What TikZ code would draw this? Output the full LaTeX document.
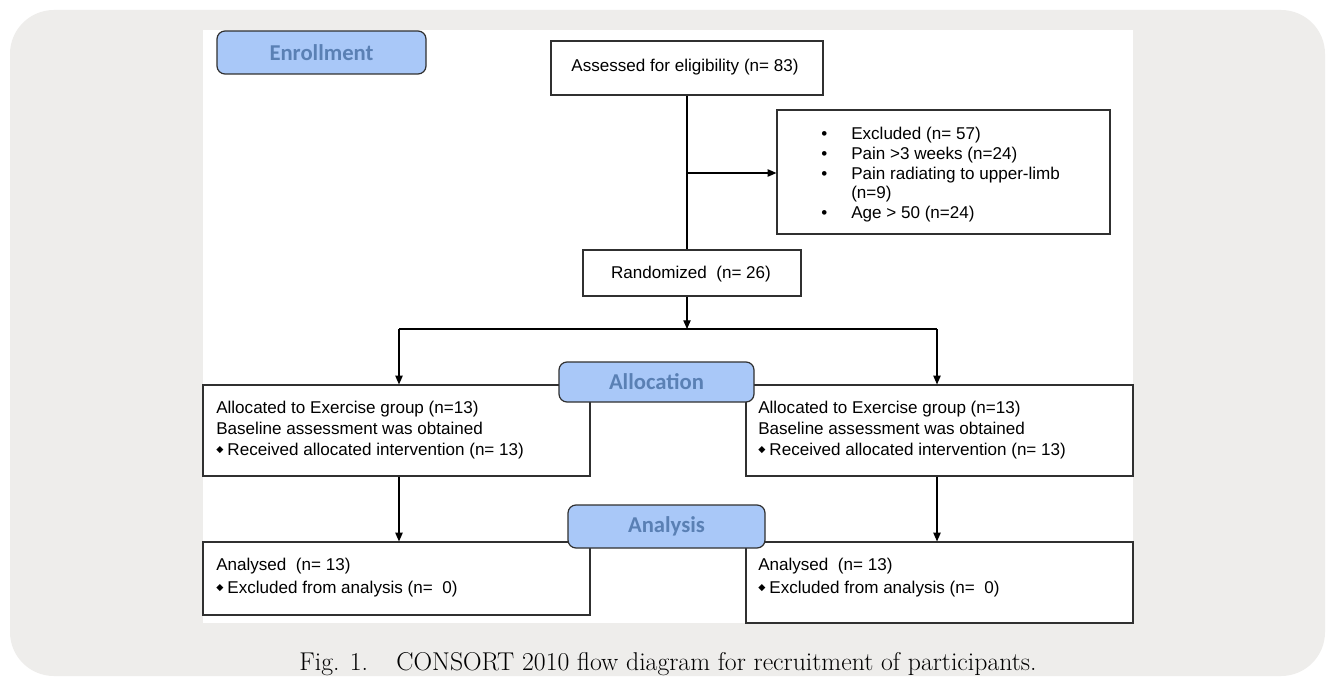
\documentclass[tikz,border=0pt]{standalone}
\usepackage{fontspec}
\usetikzlibrary{arrows.meta}
\newfontfamily\arialf{Liberation Sans}
\newfontfamily\calibf{Carlito}
\newfontfamily\dvf{DejaVu Sans}
\definecolor{cardgray}{HTML}{EEEDEB}
\definecolor{phasefill}{HTML}{A9C8F8}
\definecolor{phasetext}{HTML}{5A80B4}
\definecolor{boxline}{HTML}{303030}
\newcommand{\dmd}{\raisebox{2pt}{\dvf\fontsize{7}{7}\selectfont ◆}}
\newcommand{\bul}{\llap{\makebox[22.5pt][l]{•}}}
\begin{document}
\begin{tikzpicture}[x=0.75pt,y=-0.75pt,
  wh/.style 2 args={minimum width=#1*0.75pt, minimum height=#2*0.75pt},
  box/.style={draw=boxline, line width=0.9pt, fill=white, inner sep=0pt},
  phase/.style={draw=boxline, line width=0.9pt, fill=phasefill, rounded corners=6pt, inner sep=0pt,
    font=\calibf\bfseries\fontsize{17}{19}\selectfont, text=phasetext},
  txt/.style={font=\arialf\fontsize{12.8}{15.75}\selectfont, inner sep=0pt, align=left},
  arr/.style={-{Triangle[length=6.5pt,width=5.5pt]}, line width=0.8pt},
  ln/.style={line width=0.8pt}]
\useasboundingbox (0,0) rectangle (1327,677);
\fill[white] (0,0) rectangle (1327,677);
\fill[cardgray, rounded corners=33pt] (10,10) rectangle (1325,676);
\fill[white] (203,30) rectangle (1133,623);

% boxes
\node[box, wh={272}{54}] (ass) at (687,68) {};
\node[box, wh={333}{124}] (exc) at (943.5,172) {};
\node[box, wh={218}{46}] (rand) at (692,273) {};
\node[box, wh={387}{91}] (allocL) at (396.5,430.5) {};
\node[box, wh={387}{91}] (allocR) at (939.5,430.5) {};
\node[box, wh={387}{73}] (anaL) at (396.5,578.5) {};
\node[box, wh={387}{81}] (anaR) at (939.5,582.5) {};

% texts
\node[txt] (tass) at (685,67) {Assessed for eligibility (n= 83)};
\node[txt, anchor=north west, font=\arialf\fontsize{12.8}{14.8}\selectfont] (texc) at (851,127)
  {\bul Excluded (n= 57)\\ \bul Pain >3 weeks (n=24)\\ \bul Pain radiating to upper-limb\\ (n=9)\\ \bul Age > 50 (n=24)};
\node[txt] (trand) at (691,274) {Randomized \ (n= 26)};
\node[txt, anchor=north west] (tallocL) at (216,401)
  {Allocated to Exercise group (n=13)\\ Baseline assessment was obtained\\ \dmd\hspace{3pt}Received allocated intervention (n= 13)};
\node[txt, anchor=north west] (tallocR) at (758,401)
  {Allocated to Exercise group (n=13)\\ Baseline assessment was obtained\\ \dmd\hspace{3pt}Received allocated intervention (n= 13)};
\node[txt, anchor=north west, font=\arialf\fontsize{12.8}{17.25}\selectfont] (tanaL) at (216,558)
  {Analysed \ (n= 13)\\ \dmd\hspace{3pt}Excluded from analysis (n= \ 0)};
\node[txt, anchor=north west, font=\arialf\fontsize{12.8}{17.25}\selectfont] (tanaR) at (758,558)
  {Analysed \ (n= 13)\\ \dmd\hspace{3pt}Excluded from analysis (n= \ 0)};

% connectors
\coordinate (j1) at (687,173);
\coordinate (split) at (687,329);
\coordinate (sl) at (399,329);
\coordinate (sr) at (937,329);
\draw[ln] (ass.south) -- (ass.south |- rand.north);
\draw[arr] (j1) -- (exc.west |- j1);
\draw[arr] (ass.south |- rand.south) -- (split);
\draw[ln] (sl) -- (sr);
\draw[arr] (sl) -- (sl |- allocL.north);
\draw[arr] (sr) -- (sr |- allocR.north);
\draw[arr] (sl |- allocL.south) -- (sl |- anaL.north);
\draw[arr] (sr |- allocR.south) -- (sr |- anaR.north);

% phase labels
\node[phase, wh={209}{43}] (enr) at (321.5,52.5) {Enrollment};
\node[phase, wh={195}{40}] (allo) at (656.5,382) {Allocation};
\node[phase, wh={197}{43}] (anal) at (666.5,526.5) {Analysis};

% caption
\node[font=\fontsize{19.3}{22}\selectfont, inner sep=0pt] (cap) at (668,664)
  {Fig. 1.\hspace{1.1em}CONSORT 2010 flow diagram for recruitment of participants.};
\end{tikzpicture}
\end{document}
